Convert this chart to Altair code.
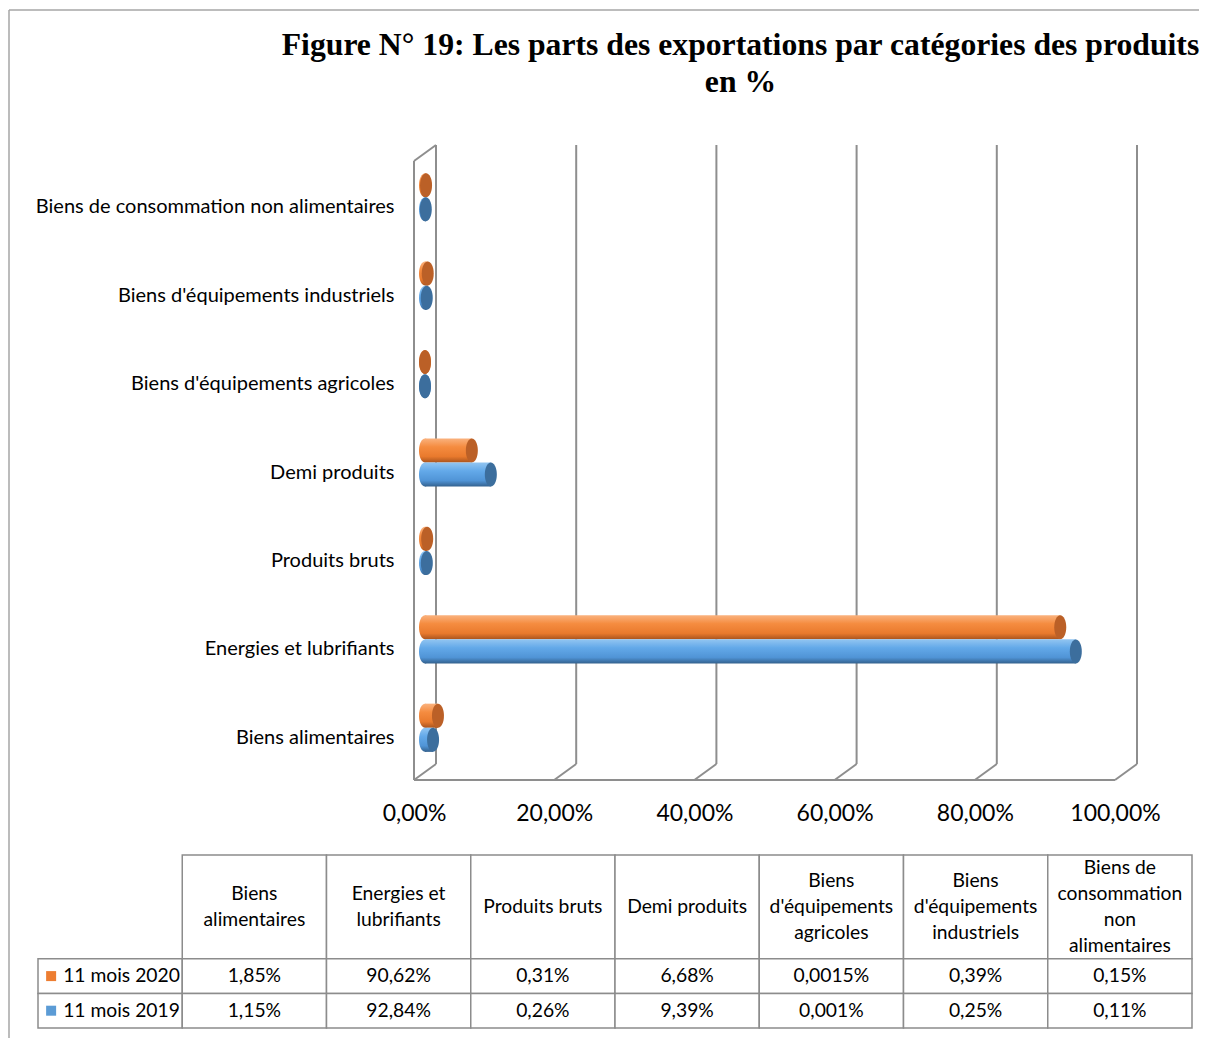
import altair as alt
import pandas as pd

# ---------------- data ----------------
categories = [
    "Biens alimentaires",
    "Energies et lubrifiants",
    "Produits bruts",
    "Demi produits",
    "Biens d'équipements agricoles",
    "Biens d'équipements industriels",
    "Biens de consommation non alimentaires",
]
table_headers = [
    "Biens\nalimentaires",
    "Energies et\nlubrifiants",
    "Produits bruts",
    "Demi produits",
    "Biens\nd'équipements\nagricoles",
    "Biens\nd'équipements\nindustriels",
    "Biens de\nconsommation\nnon\nalimentaires",
]
series = ["11 mois 2020", "11 mois 2019"]
values_2020 = [1.85, 90.62, 0.31, 6.68, 0.0015, 0.39, 0.15]
values_2019 = [1.15, 92.84, 0.26, 9.39, 0.001, 0.25, 0.11]
x_ticks = [0, 20, 40, 60, 80, 100]
title_lines = [
    "Figure N° 19: Les parts des exportations par catégories des produits",
    "en %",
]

# ---------------- styling ----------------
FONT = "Lato"
W, H = 701, 635
DEPTH_X, DEPTH_Y = -22, 16
GRID = "#8E8E8E"
FRAME = "#A6A6A6"
colors = {"11 mois 2020": "#ED7D31", "11 mois 2019": "#5B9BD5"}
cap_colors = {"11 mois 2020": "#BB6027", "11 mois 2019": "#3C6E9D"}
grads = {
    "11 mois 2020": alt.Gradient(
        gradient="linear", x1=0, x2=0, y1=0, y2=1,
        stops=[alt.GradientStop(color="#FAB27E", offset=0),
               alt.GradientStop(color="#F58C40", offset=0.35),
               alt.GradientStop(color="#E97A2D", offset=0.75),
               alt.GradientStop(color="#A9541E", offset=1)]),
    "11 mois 2019": alt.Gradient(
        gradient="linear", x1=0, x2=0, y1=0, y2=1,
        stops=[alt.GradientStop(color="#92C5F1", offset=0),
               alt.GradientStop(color="#63A9E9", offset=0.35),
               alt.GradientStop(color="#5094D6", offset=0.75),
               alt.GradientStop(color="#33618E", offset=1)]),
}
ELLIPSE = ("M0,-1 C0.276,-1 0.5,-0.552 0.5,0 C0.5,0.552 0.276,1 0,1 "
           "C-0.276,1 -0.5,0.552 -0.5,0 C-0.5,-0.552 -0.276,-1 0,-1 Z")

# ---------------- bar chart ----------------
rows = []
for s, vals in zip(series, [values_2020, values_2019]):
    for c, v in zip(categories, vals):
        rows.append({"category": c, "series": s, "value": v})
bars_df = pd.DataFrame(rows)
ticks_df = pd.DataFrame({"t": x_ticks})
one_df = pd.DataFrame({"lo": [x_ticks[0]], "hi": [x_ticks[-1]]})

xscale = alt.Scale(domain=[x_ticks[0], x_ticks[-1]], nice=False)
xaxis = alt.Axis(
    title=None, values=x_ticks, grid=False, ticks=False, domain=False,
    labelExpr="replace(format(datum.value, '.2f'), '.', ',') + '%'",
    labelFont=FONT, labelFontSize=23, labelColor="black", labelFlush=False,
    labelOffset=DEPTH_X, labelPadding=22,
)
yscale = alt.Scale(domain=list(reversed(categories)), paddingInner=0.4545, paddingOuter=0.318)
yaxis = alt.Axis(
    title=None, ticks=False, domain=False, grid=False,
    labelFont=FONT, labelFontSize=20, labelColor="black",
    labelPadding=42, labelOffset=10, labelLimit=600,
)
yoff = alt.YOffset("series:N", scale=alt.Scale(domain=series, paddingInner=0, paddingOuter=0))

grid = alt.Chart(ticks_df).mark_rule(color=GRID, strokeWidth=2).encode(
    x=alt.X("t:Q", scale=xscale, axis=xaxis),
    y=alt.value(0), y2=alt.value(H - DEPTH_Y),
)
diag = alt.Chart(ticks_df).mark_rule(color=GRID, strokeWidth=2, x2Offset=DEPTH_X).encode(
    x=alt.X("t:Q", scale=xscale, axis=xaxis), x2="t:Q",
    y=alt.value(H - DEPTH_Y), y2=alt.value(H),
)
floor = alt.Chart(one_df).mark_rule(color=GRID, strokeWidth=2, xOffset=DEPTH_X, x2Offset=DEPTH_X).encode(
    x=alt.X("lo:Q", scale=xscale, axis=xaxis), x2="hi:Q", y=alt.value(H),
)
wall_front = alt.Chart(one_df).mark_rule(color=GRID, strokeWidth=2, xOffset=DEPTH_X).encode(
    x=alt.X("lo:Q", scale=xscale, axis=xaxis), y=alt.value(DEPTH_Y), y2=alt.value(H),
)
wall_top = alt.Chart(one_df).mark_rule(color=GRID, strokeWidth=2, x2Offset=DEPTH_X).encode(
    x=alt.X("lo:Q", scale=xscale, axis=xaxis), x2="lo:Q", y=alt.value(0), y2=alt.value(DEPTH_Y),
)

layers = [grid, diag, floor, wall_front, wall_top]
BX = DEPTH_X / 2
for s in series:
    base = alt.Chart(bars_df).transform_filter(alt.datum.series == s).transform_calculate(zero="0")
    left_end = base.mark_point(
        shape=ELLIPSE, size=576, filled=True, opacity=1, strokeWidth=0,
        color=grads[s], xOffset=BX,
    ).encode(
        x=alt.X("zero:Q", scale=xscale, axis=xaxis),
        y=alt.Y("category:N", scale=yscale, axis=yaxis), yOffset=yoff,
    )
    body = base.mark_rect(color=grads[s], xOffset=BX, x2Offset=BX).encode(
        x=alt.X("zero:Q", scale=xscale, axis=xaxis), x2="value:Q",
        y=alt.Y("category:N", scale=yscale, axis=yaxis), yOffset=yoff,
    )
    cap = base.mark_point(
        shape=ELLIPSE, size=576, filled=True, opacity=1, strokeWidth=0,
        color=cap_colors[s], xOffset=BX,
    ).encode(
        x=alt.X("value:Q", scale=xscale, axis=xaxis),
        y=alt.Y("category:N", scale=yscale, axis=yaxis), yOffset=yoff,
    )
    layers += [left_end, body, cap]

bar_chart = alt.layer(*layers).properties(
    width=W, height=H,
    title=alt.TitleParams(
        text=title_lines, font="Liberation Serif", fontSize=31.7, fontWeight="bold",
        color="black", anchor="middle", frame="group", dx=-46, offset=45, lineHeight=37,
    ),
)

# ---------------- data table ----------------
TW_LEFT, TW_RIGHT, TH = -398, 756, 173
TFONT = 19.3
col_domain = ["label"] + categories

cells = [{"col": c, "y0": 0, "y1": 3} for c in categories]
for i, s in enumerate(series):
    for c in col_domain:
        cells.append({"col": c, "y0": 3 + i, "y1": 4 + i})
cells_df = pd.DataFrame(cells)
head_df = pd.DataFrame({
    "col": categories, "txt": table_headers,
    "n": [h.count("\n") + 1 for h in table_headers],
    "y": [1.5] * len(categories),
})

def fmt(v):
    return repr(v).replace(".", ",") + "%"

vals_rows = []
for i, (s, vals) in enumerate(zip(series, [values_2020, values_2019])):
    for c, v in zip(categories, vals):
        vals_rows.append({"col": c, "txt": fmt(v), "y": 3.5 + i})
vals_df = pd.DataFrame(vals_rows)
lab_df = pd.DataFrame({"col": ["label"] * 2, "txt": series, "y": [3.5, 4.5]})

tx = alt.X("col:N", scale=alt.Scale(domain=col_domain, range=[TW_LEFT, TW_RIGHT],
                                    paddingInner=0, paddingOuter=0), axis=None)
ty_scale = alt.Scale(domain=[0, 5], reverse=True, nice=False)

cell_layer = alt.Chart(cells_df).mark_rect(fill="white", stroke="#8C8C8C", strokeWidth=1.5).encode(
    x=tx, y=alt.Y("y0:Q", scale=ty_scale, axis=None), y2="y1:Q",
)
LH = 26
head_layers = []
for n in sorted(set(head_df["n"])):
    head_layers.append(
        alt.Chart(head_df).transform_filter(alt.datum.n == n).mark_text(
            font=FONT, fontSize=TFONT, lineBreak="\n", lineHeight=LH, baseline="middle",
            align="center", color="black", dy=-(n - 1) * LH / 2,
        ).encode(x=tx, y=alt.Y("y:Q", scale=ty_scale, axis=None), text="txt:N")
    )
vals_layer = alt.Chart(vals_df).mark_text(
    font=FONT, fontSize=TFONT, baseline="middle", align="center", color="black",
).encode(x=tx, y=alt.Y("y:Q", scale=ty_scale, axis=None), text="txt:N")
lab_layer = alt.Chart(lab_df).mark_text(
    font=FONT, fontSize=TFONT, baseline="middle", align="left", dx=-47, color="black",
).encode(x=tx, y=alt.Y("y:Q", scale=ty_scale, axis=None), text="txt:N")
sq_layer = alt.Chart(lab_df).mark_square(size=100, opacity=1, filled=True, xOffset=-59).encode(
    x=tx, y=alt.Y("y:Q", scale=ty_scale, axis=None),
    color=alt.Color("txt:N", scale=alt.Scale(domain=series, range=[colors[s] for s in series]), legend=None),
)
# outer chart border (Excel chart area frame), drawn relative to the table panel
frame_df = pd.DataFrame({"k": [0]})
frame_top = alt.Chart(frame_df).mark_rule(color=FRAME, strokeWidth=1.5).encode(
    x=alt.value(-427), x2=alt.value(763), y=alt.value(-845),
)
frame_left = alt.Chart(frame_df).mark_rule(color=FRAME, strokeWidth=1.5).encode(
    x=alt.value(-427), y=alt.value(-845), y2=alt.value(183),
)

table_chart = alt.layer(
    frame_top, frame_left, cell_layer, *head_layers, vals_layer, lab_layer, sq_layer
).properties(width=TW_RIGHT, height=TH)

chart = alt.vconcat(bar_chart, table_chart, spacing=75, bounds="flush").configure_view(
    stroke=None
).properties(padding={"left": 0, "top": 1, "right": 0, "bottom": 0})

chart.save("out.html", embed_options={"renderer": "svg", "actions": False})
